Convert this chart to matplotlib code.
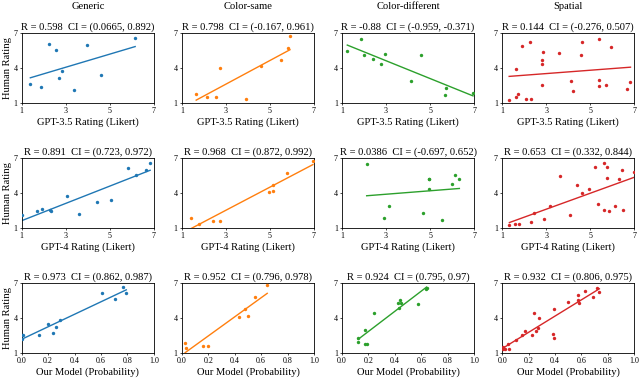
import matplotlib
matplotlib.use("Agg")
import matplotlib.pyplot as plt
import numpy as np

plt.rcParams['font.family'] = ['Liberation Serif', 'DejaVu Serif']
plt.rcParams['mathtext.fontset'] = 'stix'

categories = ['Generic', 'Color-same', 'Color-different', 'Spatial']
colors = ['#1f77b4', '#ff7f0e', '#2ca02c', '#d62728']
row_xlabels = ['GPT-3.5 Rating (Likert)', 'GPT-4 Rating (Likert)', 'Our Model (Probability)']

# GPT-3.5 vs human
gpt35_generic_x = [1.39, 1.89, 2.24, 2.56, 2.69, 2.81, 3.37, 3.96, 4.61, 6.15]
gpt35_generic_y = [2.63, 2.37, 6.06, 5.57, 3.14, 3.74, 2.11, 5.97, 3.40, 6.57]
gpt35_same_x = [1.65, 2.16, 2.55, 2.75, 3.89, 4.59, 5.49, 5.84, 5.91]
gpt35_same_y = [1.80, 1.54, 1.54, 4.00, 1.34, 4.14, 4.69, 5.69, 6.71]
gpt35_diff_x = [1.24, 1.85, 2.01, 2.42, 2.78, 2.95, 4.13, 4.60, 5.67, 5.73, 6.95]
gpt35_diff_y = [5.46, 6.46, 5.14, 4.74, 4.34, 5.23, 2.86, 5.14, 1.69, 2.29, 1.86]
gpt35_spatial_x = [1.32, 1.62, 1.65, 1.71, 1.92, 2.10, 2.31, 2.28, 2.79, 2.82, 2.84, 2.81,
                   3.58, 4.12, 4.23, 4.60, 4.63, 5.42, 5.42, 5.42, 5.72, 5.93, 6.67, 6.83]
gpt35_spatial_y = [1.29, 1.54, 3.91, 1.74, 5.89, 1.34, 1.34, 6.20, 4.31, 4.69, 5.40, 2.51,
                   5.29, 2.86, 2.00, 5.11, 6.20, 3.00, 2.43, 6.49, 2.51, 5.77, 2.20, 2.80]

# GPT-4 vs human
gpt4_generic_x = [1.00, 1.70, 1.94, 2.30, 2.33, 3.04, 3.60, 4.42, 5.07, 5.82, 6.17, 6.65, 6.83]
gpt4_generic_y = [2.14, 2.43, 2.66, 2.54, 2.46, 3.77, 2.17, 3.23, 3.43, 6.14, 5.57, 6.00, 6.60]
gpt4_same_x = [1.41, 1.80, 2.43, 2.73, 4.95, 5.12, 5.12, 5.78, 6.95]
gpt4_same_y = [1.83, 1.37, 1.60, 1.60, 4.06, 4.69, 4.20, 5.71, 6.77]
gpt4_diff_x = [2.12, 2.92, 3.15, 4.69, 4.94, 4.97, 4.97, 5.56, 6.00, 6.14, 6.33]
gpt4_diff_y = [6.51, 1.89, 2.89, 2.29, 4.34, 5.23, 5.20, 1.71, 4.77, 5.51, 5.20]
gpt4_spatial_x = [1.33, 1.57, 1.75, 2.31, 2.43, 2.91, 3.17, 3.61, 4.06, 4.39, 4.63, 4.93,
                  5.24, 5.36, 5.63, 5.61, 5.75, 5.78, 5.87, 6.13, 6.32, 6.44, 6.50, 6.98]
gpt4_spatial_y = [1.29, 1.34, 1.34, 1.54, 2.26, 1.74, 2.89, 5.43, 2.09, 4.71, 3.97, 4.34,
                  6.20, 3.06, 6.54, 2.51, 6.20, 5.31, 2.49, 2.86, 5.20, 5.94, 2.54, 5.77]

# our model vs human
ours_generic_x = [0.005, 0.01, 0.0, 0.134, 0.199, 0.234, 0.262, 0.292, 0.605, 0.705, 0.766, 0.791]
ours_generic_y = [2.57, 2.54, 2.17, 2.49, 3.49, 2.71, 3.23, 3.80, 6.09, 5.63, 6.63, 6.11]
ours_same_x = [0.025, 0.030, 0.158, 0.198, 0.435, 0.480, 0.503, 0.553, 0.646]
ours_same_y = [1.86, 1.43, 1.60, 1.60, 4.06, 4.77, 4.20, 5.77, 6.83]
ours_diff_x = [0.123, 0.123, 0.171, 0.186, 0.174, 0.239, 0.423, 0.431, 0.438, 0.446, 0.579, 0.640, 0.635]
ours_diff_y = [2.31, 1.94, 1.74, 1.74, 2.94, 4.40, 5.26, 4.83, 5.51, 5.26, 5.23, 6.54, 6.51]
ours_spatial_x = [0.005, 0.008, 0.020, 0.043, 0.050, 0.106, 0.151, 0.173, 0.226, 0.241, 0.259, 0.274,
                  0.281, 0.382, 0.389, 0.392, 0.495, 0.578, 0.578, 0.585, 0.626, 0.686, 0.721, 0.736]
ours_spatial_y = [1.54, 1.37, 1.37, 1.80, 1.37, 2.11, 2.54, 2.91, 2.51, 4.40, 2.86, 3.09,
                  3.97, 2.63, 2.29, 4.77, 5.34, 5.94, 5.51, 5.26, 6.29, 5.83, 6.54, 6.26]

titles = [
    ['R = 0.598  CI = (0.0665, 0.892)', 'R = 0.798  CI = (-0.167, 0.961)',
     'R = -0.88  CI = (-0.959, -0.371)', 'R = 0.144  CI = (-0.276, 0.507)'],
    ['R = 0.891  CI = (0.723, 0.972)', 'R = 0.968  CI = (0.872, 0.992)',
     'R = 0.0386  CI = (-0.697, 0.652)', 'R = 0.653  CI = (0.332, 0.844)'],
    ['R = 0.973  CI = (0.862, 0.987)', 'R = 0.952  CI = (0.796, 0.978)',
     'R = 0.924  CI = (0.795, 0.97)', 'R = 0.932  CI = (0.806, 0.975)'],
]

data = [
    [(gpt35_generic_x, gpt35_generic_y), (gpt35_same_x, gpt35_same_y),
     (gpt35_diff_x, gpt35_diff_y), (gpt35_spatial_x, gpt35_spatial_y)],
    [(gpt4_generic_x, gpt4_generic_y), (gpt4_same_x, gpt4_same_y),
     (gpt4_diff_x, gpt4_diff_y), (gpt4_spatial_x, gpt4_spatial_y)],
    [(ours_generic_x, ours_generic_y), (ours_same_x, ours_same_y),
     (ours_diff_x, ours_diff_y), (ours_spatial_x, ours_spatial_y)],
]

fs = 7.6

fig, axes = plt.subplots(3, 4, figsize=(6.4, 3.79), dpi=100)
fig.subplots_adjust(left=0.034, right=0.991, top=0.913, bottom=0.069, wspace=0.212, hspace=0.786)

for r in range(3):
    for c in range(4):
        ax = axes[r, c]
        x = np.array(data[r][c][0])
        y = np.array(data[r][c][1])
        ax.scatter(x, y, s=6, color=colors[c], linewidths=0, zorder=3)
        k, b = np.polyfit(x, y, 1)
        xs = np.array([x.min(), x.max()])
        ax.plot(xs, k * xs + b, color=colors[c], lw=1.0)
        if r < 2:
            ax.set_xlim(1, 7)
            ax.set_xticks([1, 3, 5, 7])
        else:
            ax.set_xlim(0, 1)
            ax.set_xticks([0.0, 0.2, 0.4, 0.6, 0.8, 1.0])
        ax.set_ylim(1, 7)
        ax.set_yticks([1, 4, 7])
        ax.tick_params(labelsize=5.8, length=1.5, width=0.5, pad=1.5)
        for sp in ax.spines.values():
            sp.set_linewidth(0.6)
        ax.set_title(titles[r][c], fontsize=fs, pad=2.5)
        ax.set_xlabel(row_xlabels[r], fontsize=fs, labelpad=1.5)
        if c == 0:
            ax.set_ylabel('Human Rating', fontsize=fs, labelpad=1)
        if r == 0:
            ax.text(0.5, 1.38, categories[c], transform=ax.transAxes,
                    ha='center', va='center', fontsize=fs)

plt.savefig('out.png', dpi=100)
